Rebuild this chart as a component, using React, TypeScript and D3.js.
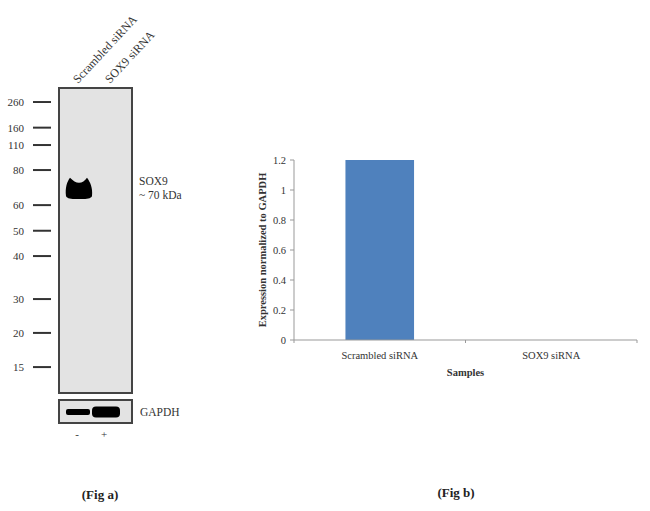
import React from "react";
import * as d3 from "d3";

// ---- Western blot (Fig a) data ----
const lanes = ["Scrambled siRNA", "SOX9 siRNA"];
const laneSigns = ["-", "+"];
const markerKDa = ["260", "160", "110", "80", "60", "50", "40", "30", "20", "15"];
// relative migration (0 = top of membrane, 1 = bottom)
const markerMigration = [0.046, 0.13, 0.187, 0.269, 0.384, 0.468, 0.551, 0.692, 0.803, 0.915];
const sox9Band = { lane: "Scrambled siRNA", top: 0.294, bottom: 0.364 };
const gapdhIntensity = [0.45, 1.0]; // relative band thickness per lane

// ---- Bar chart (Fig b) data ----
const samples = ["Scrambled siRNA", "SOX9 siRNA"];
const expression = [1.2, 0];
const yTicks = [0, 0.2, 0.4, 0.6, 0.8, 1, 1.2];

const W = 650;
const H = 511;
const serif = "Liberation Serif, Times New Roman, Times, serif";

export default function App() {
  const blot = { x0: 59, x1: 132, y0: 88, y1: 393 };
  const gap = { y0: 400, y1: 423 };
  const my = d3.scaleLinear().domain([0, 1]).range([blot.y0, blot.y1]);
  const lx = d3.scalePoint<string>().domain(lanes).range([79, 106]);

  const bx = lx(sox9Band.lane) as number;
  const bt = my(sox9Band.top);
  const bb = my(sox9Band.bottom);
  const p = d3.path();
  p.moveTo(bx - 13, bb - 3);
  p.bezierCurveTo(bx - 14, bt + 10, bx - 12, bt + 4, bx - 9, bt);
  p.bezierCurveTo(bx - 6, bt + 3, bx - 3, bt + 5, bx, bt + 5);
  p.bezierCurveTo(bx + 3, bt + 5, bx + 6, bt + 3, bx + 8, bt);
  p.bezierCurveTo(bx + 11, bt + 4, bx + 14, bt + 10, bx + 13, bb - 3);
  p.bezierCurveTo(bx + 12, bb + 0.5, bx + 4, bb, bx, bb);
  p.bezierCurveTo(bx - 4, bb, bx - 12, bb + 0.5, bx - 13, bb - 3);
  p.closePath();

  const gapMid = (gap.y0 + gap.y1) / 2 + 0.5;

  const x = d3.scaleBand<string>().domain(samples).range([294, 637]).paddingInner(0.6).paddingOuter(0.3);
  const xFull = d3.scaleBand<string>().domain(samples).range([294, 637]);
  const y = d3.scaleLinear().domain([0, 1.2]).range([340, 160]);

  return (
    <svg width={W} height={H} style={{ position: "absolute", left: 0, top: 0, background: "#fff", fontFamily: serif }}>
      {lanes.map((l, i) => (
        <text
          key={l}
          transform={`translate(${(lx(l) as number) + (i === 0 ? -1 : 4)},${84}) rotate(-47)`}
          fontSize={12}
          fill="#333"
        >
          {l}
        </text>
      ))}
      <rect x={blot.x0} y={blot.y0} width={blot.x1 - blot.x0} height={blot.y1 - blot.y0} fill="#e3e3e3" stroke="#444" strokeWidth={2} />
      {markerKDa.map((k, i) => (
        <g key={k}>
          <line x1={33} x2={51} y1={my(markerMigration[i])} y2={my(markerMigration[i])} stroke="#333" strokeWidth={2} />
          <text x={24} y={my(markerMigration[i])} dy="0.35em" textAnchor="end" fontSize={11} fill="#333">
            {k}
          </text>
        </g>
      ))}
      <path d={p.toString()} fill="#000" />
      <text x={139} y={185} fontSize={11.5} fill="#333">SOX9</text>
      <text x={139} y={199} fontSize={11.5} fill="#333">~ 70 kDa</text>

      <rect x={blot.x0} y={gap.y0} width={blot.x1 - blot.x0} height={gap.y1 - gap.y0} fill="#e3e3e3" stroke="#444" strokeWidth={2} />
      {lanes.map((l, i) => {
        const c = lx(l) as number;
        const hh = 2 + gapdhIntensity[i] * 9;
        const ww = i === 0 ? 24 : 28;
        return (
          <rect
            key={l}
            x={c - ww / 2 + (i === 0 ? -1 : 0)}
            y={gapMid - hh / 2}
            width={ww}
            height={hh}
            rx={i === 0 ? 2 : 4}
            fill="#000"
          />
        );
      })}
      <text x={140} y={gapMid} dy="0.35em" fontSize={11.5} fill="#333">GAPDH</text>
      {lanes.map((l, i) => (
        <text key={l} x={(lx(l) as number) - 2} y={438} textAnchor="middle" fontSize={11} fill="#333">
          {laneSigns[i]}
        </text>
      ))}
      <text x={100} y={499} textAnchor="middle" fontSize={13} fontWeight="bold" fill="#222">(Fig a)</text>

      {samples.map((s, i) => (
        <rect
          key={s}
          x={x(s) as number}
          y={y(expression[i])}
          width={x.bandwidth()}
          height={y(0) - y(expression[i])}
          fill="#4f81bd"
        />
      ))}
      <line x1={294} x2={294} y1={y(1.2)} y2={y(0)} stroke="#999" strokeWidth={1} />
      {yTicks.map((t) => (
        <g key={t}>
          <line x1={290} x2={294} y1={y(t)} y2={y(t)} stroke="#999" />
          <text x={286} y={y(t)} dy="0.35em" textAnchor="end" fontSize={10.5} fill="#333">
            {d3.format("~g")(t)}
          </text>
        </g>
      ))}
      <line x1={294} x2={637} y1={y(0)} y2={y(0)} stroke="#999" strokeWidth={1} />
      {[294, ...samples.map((s) => (xFull(s) as number) + xFull.bandwidth())].map((v, i) => (
        <line key={i} x1={v} x2={v} y1={y(0)} y2={y(0) + 3} stroke="#999" />
      ))}
      {samples.map((s) => (
        <text key={s} x={(xFull(s) as number) + xFull.bandwidth() / 2} y={355} dy="0.35em" textAnchor="middle" fontSize={10.5} fill="#333">
          {s}
        </text>
      ))}
      <text x={465.5} y={372} dy="0.35em" textAnchor="middle" fontSize={10.5} fontWeight="bold" fill="#333">Samples</text>
      <text transform={`translate(262,250) rotate(-90)`} textAnchor="middle" dy="0.35em" fontSize={10.5} fontWeight="bold" fill="#333">
        Expression normalized to GAPDH
      </text>
      <text x={456} y={497} textAnchor="middle" fontSize={13} fontWeight="bold" fill="#222">(Fig b)</text>
    </svg>
  );
}
